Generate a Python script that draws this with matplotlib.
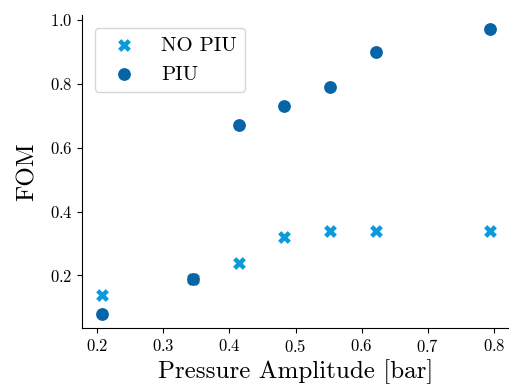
import matplotlib
matplotlib.use('Agg')
import matplotlib.pyplot as plt

plt.rcParams['font.family'] = 'serif'
plt.rcParams['font.serif'] = ['cmr10', 'DejaVu Serif']
plt.rcParams['mathtext.fontset'] = 'cm'
plt.rcParams['axes.formatter.use_mathtext'] = True

pressure = [0.207, 0.345, 0.414, 0.483, 0.552, 0.621, 0.793]
fom_no_piu = [0.14, 0.19, 0.24, 0.32, 0.34, 0.34, 0.34]
fom_piu = [0.08, 0.19, 0.67, 0.73, 0.79, 0.90, 0.97]

fig = plt.figure(figsize=(5.1, 3.9), dpi=100)
ax = fig.add_axes([0.161, 0.159, 0.837, 0.802])

ax.scatter(pressure, fom_no_piu, marker='X', s=85, color='#0e9ad8', linewidths=0, label='NO PIU')
ax.scatter(pressure, fom_piu, marker='o', s=85, color='#0565a6', linewidths=0, label='PIU')

ax.set_xlabel('Pressure Amplitude [bar]', fontsize=18, labelpad=3)
ax.set_ylabel('FOM', fontsize=18, labelpad=8)
ax.tick_params(labelsize=12)
ax.set_yticks([0.2, 0.4, 0.6, 0.8, 1.0])
ax.spines['top'].set_visible(False)
ax.spines['right'].set_visible(False)
ax.legend(loc='upper left', fontsize=15, borderaxespad=0.6)

fig.savefig('out.png')
